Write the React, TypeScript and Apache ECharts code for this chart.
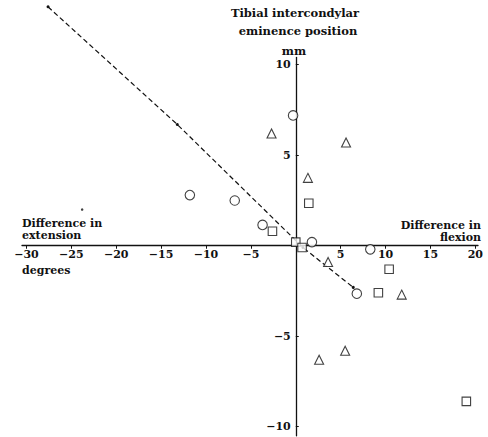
import React, { useEffect, useRef } from "react";
import * as echarts from "echarts";

const xTicks = [-30, -25, -20, -15, -10, -5, 5, 10, 15, 20];
const yTicks = [-10, -5, 5, 10];

const circles: [number, number][] = [
  [-11.8, 2.8], [-6.8, 2.5], [-0.3, 7.2], [-3.7, 1.15], [1.8, 0.2], [8.3, -0.2], [6.8, -2.65],
];
const squares: [number, number][] = [
  [1.45, 2.35], [-2.6, 0.8], [0, 0.2], [0.7, -0.1], [10.4, -1.3], [9.2, -2.6], [19.0, -8.6],
];
const triangles: [number, number][] = [
  [-2.7, 6.2], [5.6, 5.7], [1.35, 3.75], [3.6, -0.9], [11.8, -2.7], [5.5, -5.8], [2.6, -6.3],
];
const regressionLine: [number, number][] = [
  [-27.6, 13.2], [-13.2, 6.7], [0.8, -0.1], [6.4, -2.3],
];
const loneDot: [number, number][] = [[-23.8, 2.0]];

const FONT = "DejaVu Serif";

const W = 488;
const H = 437;
const G_LEFT = 22;
const G_RIGHT = 10;
const G_TOP = 57.5;
const G_BOTTOM = 1.2;
const X_MIN = -30.5;
const X_MAX = 20.3;
const Y_MIN = -10.5;
const Y_MAX = 10.4;

export default function App() {
  const ref = useRef<HTMLDivElement>(null);
  useEffect(() => {
    if (!ref.current) return;
    const chart = echarts.init(ref.current, null, { renderer: "svg" });
    const gw = W - G_LEFT - G_RIGHT;
    const gh = H - G_TOP - G_BOTTOM;
    // move axes so they cross at the origin
    const yAxisOffset = -((0 - X_MIN) / (X_MAX - X_MIN)) * gw;
    const xAxisOffset = -((0 - Y_MIN) / (Y_MAX - Y_MIN)) * gh;
    const hollow = {
      color: "#ffffff",
      borderColor: "#111111",
      borderWidth: 1.1,
    };
    const txt = (
      text: string,
      x: number,
      y: number,
      align: string,
      size = 11,
      lineHeight?: number
    ) => ({
      type: "text",
      x,
      y,
      style: {
        text,
        fill: "#111",
        font: `bold ${size}px "${FONT}"`,
        lineHeight: lineHeight ?? size + 2,
        textAlign: align,
        textVerticalAlign: "middle",
      },
    });
    const fmt = (v: number) => (v < 0 ? "\u2212" + Math.abs(v) : String(v));
    chart.setOption({
      animation: false,
      backgroundColor: "#ffffff",
      grid: { left: G_LEFT, right: G_RIGHT, top: G_TOP, bottom: G_BOTTOM, containLabel: false },
      xAxis: {
        type: "value",
        min: X_MIN,
        max: X_MAX,
        position: "bottom",
        offset: xAxisOffset,
        splitLine: { show: false },
        axisLine: { onZero: false, lineStyle: { color: "#111", width: 1.3 } },
        axisTick: { customValues: xTicks, length: 3, lineStyle: { color: "#111" } },
        axisLabel: {
          customValues: xTicks,
          color: "#111",
          fontFamily: FONT,
          fontWeight: "bold",
          fontSize: 11,
          margin: 3,
          formatter: fmt,
        },
      },
      yAxis: {
        type: "value",
        min: Y_MIN,
        max: Y_MAX,
        position: "left",
        offset: yAxisOffset,
        splitLine: { show: false },
        axisLine: { onZero: false, lineStyle: { color: "#111", width: 1.3 } },
        axisTick: { customValues: yTicks, length: 3, inside: true, lineStyle: { color: "#111" } },
        axisLabel: {
          customValues: yTicks,
          color: "#111",
          fontFamily: FONT,
          fontWeight: "bold",
          fontSize: 11,
          margin: 5,
          formatter: fmt,
        },
      },
      series: [
        {
          type: "line",
          data: regressionLine,
          clip: false,
          symbol: "circle",
          symbolSize: 3,
          itemStyle: { color: "#111" },
          lineStyle: { color: "#111", width: 1.2, type: [5, 3] },
          z: 1,
        },
        {
          type: "scatter",
          data: loneDot,
          symbol: "circle",
          symbolSize: 2.5,
          itemStyle: { color: "#111" },
        },
        {
          type: "scatter",
          data: circles,
          symbol: "circle",
          symbolSize: 9.5,
          itemStyle: hollow,
          z: 3,
        },
        {
          type: "scatter",
          data: squares,
          symbol: "rect",
          symbolSize: 8.5,
          itemStyle: hollow,
          z: 3,
        },
        {
          type: "scatter",
          data: triangles,
          symbol: "triangle",
          symbolSize: 9,
          itemStyle: hollow,
          z: 3,
        },
      ],
      graphic: [
        txt("Tibial intercondylar", 295, 13, "center", 11.5),
        txt("eminence position", 298, 31, "center", 11.5),
        txt("mm", 294, 51, "center", 11.5),
        txt("Difference in\nextension", 22, 229.5, "left", 11, 12),
        txt("degrees", 22, 270, "left"),
        txt("Difference in\nflexion", 481, 231, "right", 11, 12),
      ],
    });
    return () => chart.dispose();
  }, []);
  return (
    <div
      ref={ref}
      style={{ position: "absolute", left: 0, top: 0, width: W, height: H }}
    />
  );
}
